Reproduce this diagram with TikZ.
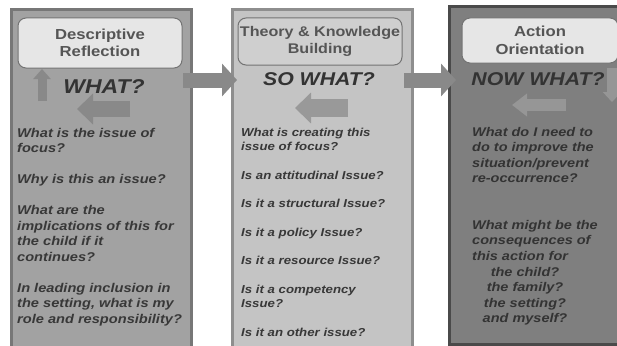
\documentclass[tikz,border=0pt]{standalone}
\usepackage{fontspec}
\setmainfont{Liberation Sans}[FakeStretch=1.15]
\usetikzlibrary{arrows.meta}

\definecolor{descfill}{HTML}{A2A2A2}
\definecolor{descline}{HTML}{777777}
\definecolor{theofill}{HTML}{C4C4C4}
\definecolor{theoline}{HTML}{8E8E8E}
\definecolor{actfill}{HTML}{7F7F7F}
\definecolor{actline}{HTML}{4A4A4A}
\definecolor{boxfill}{HTML}{E6E6E6}
\definecolor{boxline}{HTML}{737373}
\definecolor{headtext}{HTML}{555555}
\definecolor{asktext}{HTML}{333333}
\definecolor{bodytext}{HTML}{383838}
\definecolor{flowgray}{HTML}{898989}

\tikzset{
	panel/.style={draw=#1, line width=3pt, anchor=north west, inner sep=0pt},
	titlebox/.style={draw=boxline, fill=boxfill, line width=1pt, rounded corners=8pt,
		align=center, inner sep=0pt, text=headtext,
		font=\bfseries\fontsize{14.5}{17.5}\selectfont},
	ask/.style={anchor=base, text=asktext, inner sep=0pt,
		font=\bfseries\itshape\fontsize{#1}{#1}\selectfont},
	questions/.style={anchor=north west, align=left, inner sep=0pt, text=bodytext,
		font=\bfseries\itshape\fontsize{#1}{15.5}\selectfont},
	flow/.style={draw=flowgray, line width=15pt, -{Triangle[width=32pt,length=15pt]}},
	hint/.style={draw=#1, line width=16pt, -{Triangle[width=30pt,length=16pt]}}
}

\begin{document}
\begin{tikzpicture}[x=1pt,y=-1pt]
	\clip (0,0) rectangle (617,345);
	\fill[white] (0,0) rectangle (617,345);

	% the three columns
	\node[panel=descline, fill=descfill, minimum width=180pt, minimum height=360pt] (desc) at (10,8) {};
	\node[panel=theoline, fill=theofill, minimum width=180pt, minimum height=360pt] (theo) at (231,8) {};
	\node[panel=actline, fill=actfill, minimum width=185pt, minimum height=338pt] (act) at (448,5) {};

	% arrows from column to column
	\coordinate (descOut) at (183,80);
	\coordinate (theoIn) at (237,80);
	\coordinate (theoOut) at (404,80);
	\coordinate (actIn) at (456,80);
	\draw[flow] (descOut) -- (theoIn);
	\draw[flow] (theoOut) -- (actIn);

	% headings
	\node[titlebox, minimum width=164pt, minimum height=50pt] (descTitle) at (100,43) {Descriptive\\Reflection};
	\node[titlebox, fill=boxfill!90!black, minimum width=164pt, minimum height=47pt,
		font=\bfseries\fontsize{14}{16.5}\selectfont] (theoTitle) at (320,41.5) {Theory \& Knowledge\\Building};
	\node[titlebox, minimum width=156pt, minimum height=45pt] (actTitle) at (540,40.5) {Action\\Orientation};

	\node[ask=20] (descAsk) at (104,93) {WHAT?};
	\node[ask=18.5] (theoAsk) at (319,85) {SO WHAT?};
	\node[ask=18.5] (actAsk) at (538,85) {NOW WHAT?};

	% small arrows inside the columns
	\coordinate (upFoot) at (42,101);
	\coordinate (upTip) at (42,69);
	\draw[draw=flowgray, line width=9pt, -{Triangle[width=17pt,length=10pt]}] (upFoot) -- (upTip);
	\coordinate (descBack) at (130,109);
	\coordinate (descBackTip) at (77,109);
	\draw[hint=flowgray] (descBack) -- (descBackTip);
	\coordinate (theoBack) at (348,108);
	\coordinate (theoBackTip) at (295,108);
	\draw[hint=theofill!78!black, line width=18pt] (theoBack) -- (theoBackTip);
	\coordinate (actBack) at (566,105);
	\coordinate (actBackTip) at (512,105);
	\draw[draw=actfill!82!white, line width=12pt, -{Triangle[width=22pt,length=15pt]}] (actBack) -- (actBackTip);
	\coordinate (downFoot) at (612,68);
	\coordinate (downTip) at (612,102);
	\draw[draw=actfill!82!white, line width=10pt, -{Triangle[width=18pt,length=10pt]}] (downFoot) -- (downTip);

	% questions
	\node[questions=12.7] (descList) at (17,127.7) {What is the issue of\\focus?\\[15.5pt]
		Why is this an issue?\\[15.5pt]
		What are the\\implications of this for\\the child if it\\continues?\\[15.5pt]
		In leading inclusion in\\the setting, what is my\\role and responsibility?};
	\node[questions=11.5, font=\bfseries\itshape\fontsize{11.5}{14.5}\selectfont] (theoList) at (241,127.6) {What is creating this\\issue of focus?\\[14pt]
		Is an attitudinal Issue?\\[14pt]
		Is it a structural Issue?\\[14pt]
		Is it a policy Issue?\\[14pt]
		Is it a resource Issue?\\[14pt]
		Is it a competency\\Issue?\\[14pt]
		Is it an other issue?};
	\node[questions=12.6, text=asktext] (actList) at (472,126.8) {What do I need to\\do to improve the\\situation/prevent\\re-occurrence?\\[31pt]
		What might be the\\consequences of\\this action for};
	\node[questions=12.6, text=asktext, anchor=north, align=center] (actWho) at (525,266.8) {the child?\\the family?\\the setting?\\and myself?};
\end{tikzpicture}
\end{document}
